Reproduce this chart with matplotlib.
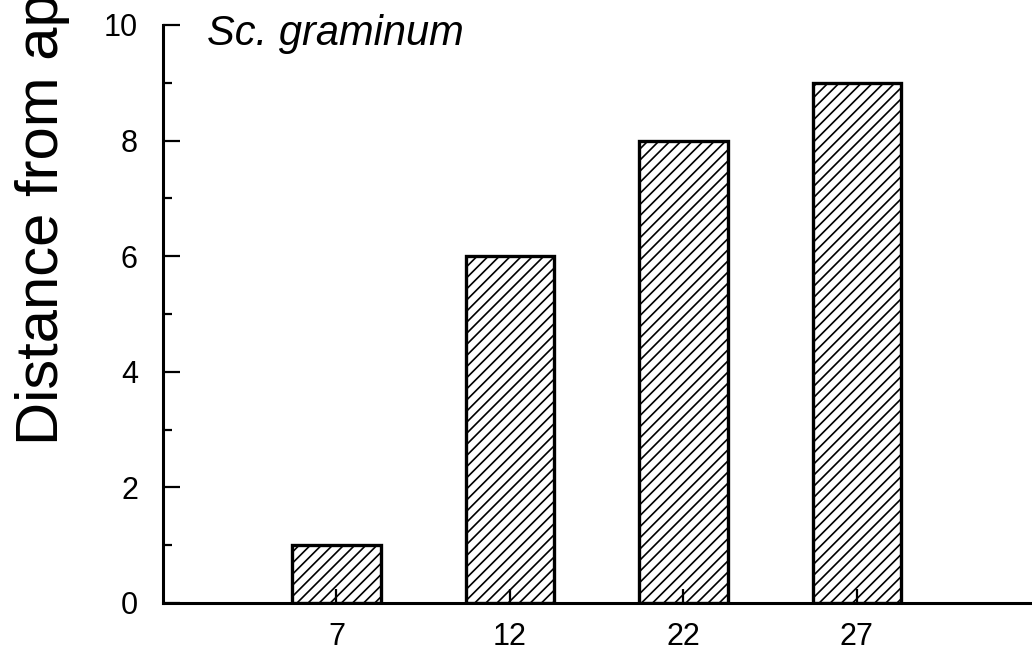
import matplotlib
matplotlib.use("Agg")
import matplotlib.pyplot as plt
from matplotlib.ticker import MultipleLocator

# Days after treatment and distance of the response zone from the apex
days = ["7", "12", "22", "27"]
distance = [1, 6, 8, 9]
species = "Sc. graminum"
y_label = "Distance from apex (mm)"

plt.rcParams["font.family"] = ["Liberation Sans", "DejaVu Sans"]
plt.rcParams["hatch.linewidth"] = 1.2
plt.rcParams["hatch.color"] = "black"

W, H = 1032, 656
fig = plt.figure(figsize=(W / 100, H / 100), dpi=100)
ax = fig.add_axes([163 / W, 53 / H, 1 - 163 / W, 578 / H])

x = list(range(len(days)))
ax.bar(x, distance, width=0.51, color="white", edgecolor="black",
       linewidth=2.4, hatch="///", zorder=1)

ax.set_xlim(-1.0, 4.01)
ax.set_ylim(0, 10)
ax.set_xticks(x)
ax.set_xticklabels(days)
ax.yaxis.set_major_locator(MultipleLocator(2))
ax.yaxis.set_minor_locator(MultipleLocator(1))

for side in ("top", "right"):
    ax.spines[side].set_visible(False)
for side in ("left", "bottom"):
    ax.spines[side].set_linewidth(2.2)

ax.tick_params(axis="y", which="major", direction="in", length=12, width=1.6,
               labelsize=22, pad=18)
ax.tick_params(axis="y", which="minor", direction="in", length=6.5, width=1.6)
ax.tick_params(axis="x", which="major", direction="in", length=10, width=1.6,
               labelsize=22, pad=14)

# species name in the upper-left corner of the panel
fig.text(207 / W, (H - 45) / H, species, fontsize=30, style="italic",
         ha="left", va="baseline")

# large rotated axis title, anchored at the start of its baseline
fig.text(58 / W, (H - 445) / H, y_label, fontsize=43, rotation=90,
         rotation_mode="anchor", ha="left", va="baseline")

fig.savefig("out.png", dpi=100)
